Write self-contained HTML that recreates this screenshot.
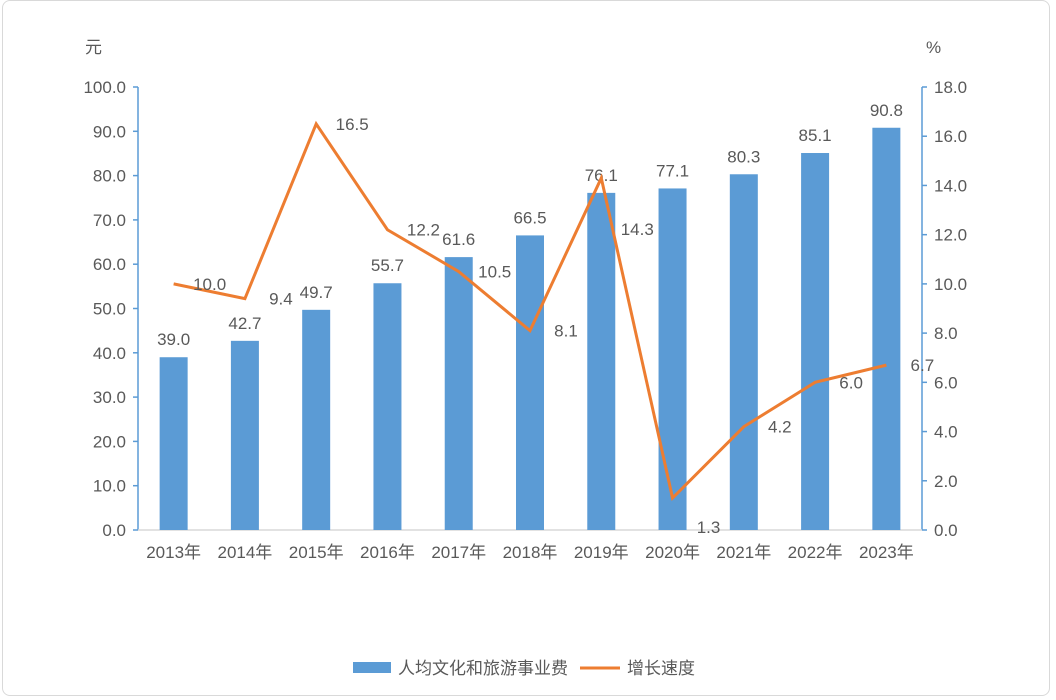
<!DOCTYPE html>
<html><head><meta charset="utf-8">
<style>
html,body{margin:0;padding:0;background:#fff;}
body{width:1056px;height:700px;overflow:hidden;font-family:"Liberation Sans","Noto Sans CJK SC",sans-serif;}
#frame{position:absolute;left:2px;top:0;width:1048px;height:696px;border:1px solid #d9d9d9;border-radius:8px;box-sizing:border-box;}
svg text{font-family:"Liberation Sans","Noto Sans CJK SC",sans-serif;fill:#595959;}
</style></head>
<body>
<div id="frame"></div>
<svg id="chart" width="1056" height="700" style="position:absolute;left:0;top:0"></svg>
<script>
const categories=["2013年","2014年","2015年","2016年","2017年","2018年","2019年","2020年","2021年","2022年","2023年"];
const spending=[39.0,42.7,49.7,55.7,61.6,66.5,76.1,77.1,80.3,85.1,90.8];
const growth=[10.0,9.4,16.5,12.2,10.5,8.1,14.3,1.3,4.2,6.0,6.7];
const leftTicks=[0,10,20,30,40,50,60,70,80,90,100];
const rightTicks=[0,2,4,6,8,10,12,14,16,18];

const svg=document.getElementById('chart');
const NS='http://www.w3.org/2000/svg';
const X0=138,X1=922,Y0=530,Y1=87;
const band=(X1-X0)/categories.length;
const xC=i=>X0+band*(i+0.5);
const yL=v=>Y0-(v/100)*(Y0-Y1);
const yR=v=>Y0-(v/18)*(Y0-Y1);
function mk(tag,attrs,parent){const e=document.createElementNS(NS,tag);for(const k in attrs)e.setAttribute(k,attrs[k]);(parent||svg).appendChild(e);return e;}

// axes
let a=mk('line',{x1:X0,y1:Y1,x2:X0,y2:Y0,stroke:'#5b9bd5','stroke-width':1.5});

a=mk('line',{x1:X1,y1:Y1,x2:X1,y2:Y0,stroke:'#5b9bd5','stroke-width':1.5});

a=mk('line',{x1:X0,y1:Y0,x2:X1,y2:Y0,stroke:'#d9d9d9','stroke-width':1.5});


leftTicks.forEach(v=>{
  const y=yL(v);
  const t=mk('line',{x1:X0-5,y1:y,x2:X0,y2:y,stroke:'#5b9bd5','stroke-width':1.5});
  
  const l=mk('text',{x:X0-12,y:y+6,'text-anchor':'end','font-size':17});
  l.textContent=v.toFixed(1);
  
});
rightTicks.forEach(v=>{
  const y=yR(v);
  const t=mk('line',{x1:X1,y1:y,x2:X1+5,y2:y,stroke:'#5b9bd5','stroke-width':1.5});
  
  const l=mk('text',{x:X1+12,y:y+6,'text-anchor':'start','font-size':17});
  l.textContent=v.toFixed(1);
  
});
let u=mk('text',{x:85,y:53,'font-size':17});u.textContent='元';

u=mk('text',{x:926,y:53,'font-size':17});u.textContent='%';


// bars
const BW=28;
spending.forEach((v,i)=>{
  const r=mk('rect',{x:xC(i)-BW/2,y:yL(v),width:BW,height:Y0-yL(v),fill:'#5b9bd5'});
  
  const l=mk('text',{x:xC(i),y:yL(v)-12,'text-anchor':'middle','font-size':17});
  l.textContent=v.toFixed(1);
  
});
categories.forEach((c,i)=>{
  const l=mk('text',{x:xC(i),y:558,'text-anchor':'middle','font-size':17});
  l.textContent=c;
  
});

// line
const pts=growth.map((v,i)=>xC(i)+','+yR(v)).join(' ');
const pl=mk('polyline',{points:pts,fill:'none',stroke:'#ed7d31','stroke-width':3,'stroke-linejoin':'miter'});

growth.forEach((v,i)=>{
  let dy=6;
  if(i===6)dy=57;
  if(i===7)dy=35;
  const l=mk('text',{x:xC(i)+36,y:yR(v)+dy,'text-anchor':'middle','font-size':17});
  l.textContent=v.toFixed(1);
  
});

// legend
const g=mk('g',{});

let r=mk('rect',{x:353,y:662,width:38,height:11,fill:'#5b9bd5'},g);

let t=mk('text',{x:398,y:674,'font-size':17},g);t.textContent='人均文化和旅游事业费';

r=mk('line',{x1:580,y1:668,x2:620,y2:668,stroke:'#ed7d31','stroke-width':3},g);

t=mk('text',{x:627,y:674,'font-size':17},g);t.textContent='增长速度';

</script>
</body></html>
